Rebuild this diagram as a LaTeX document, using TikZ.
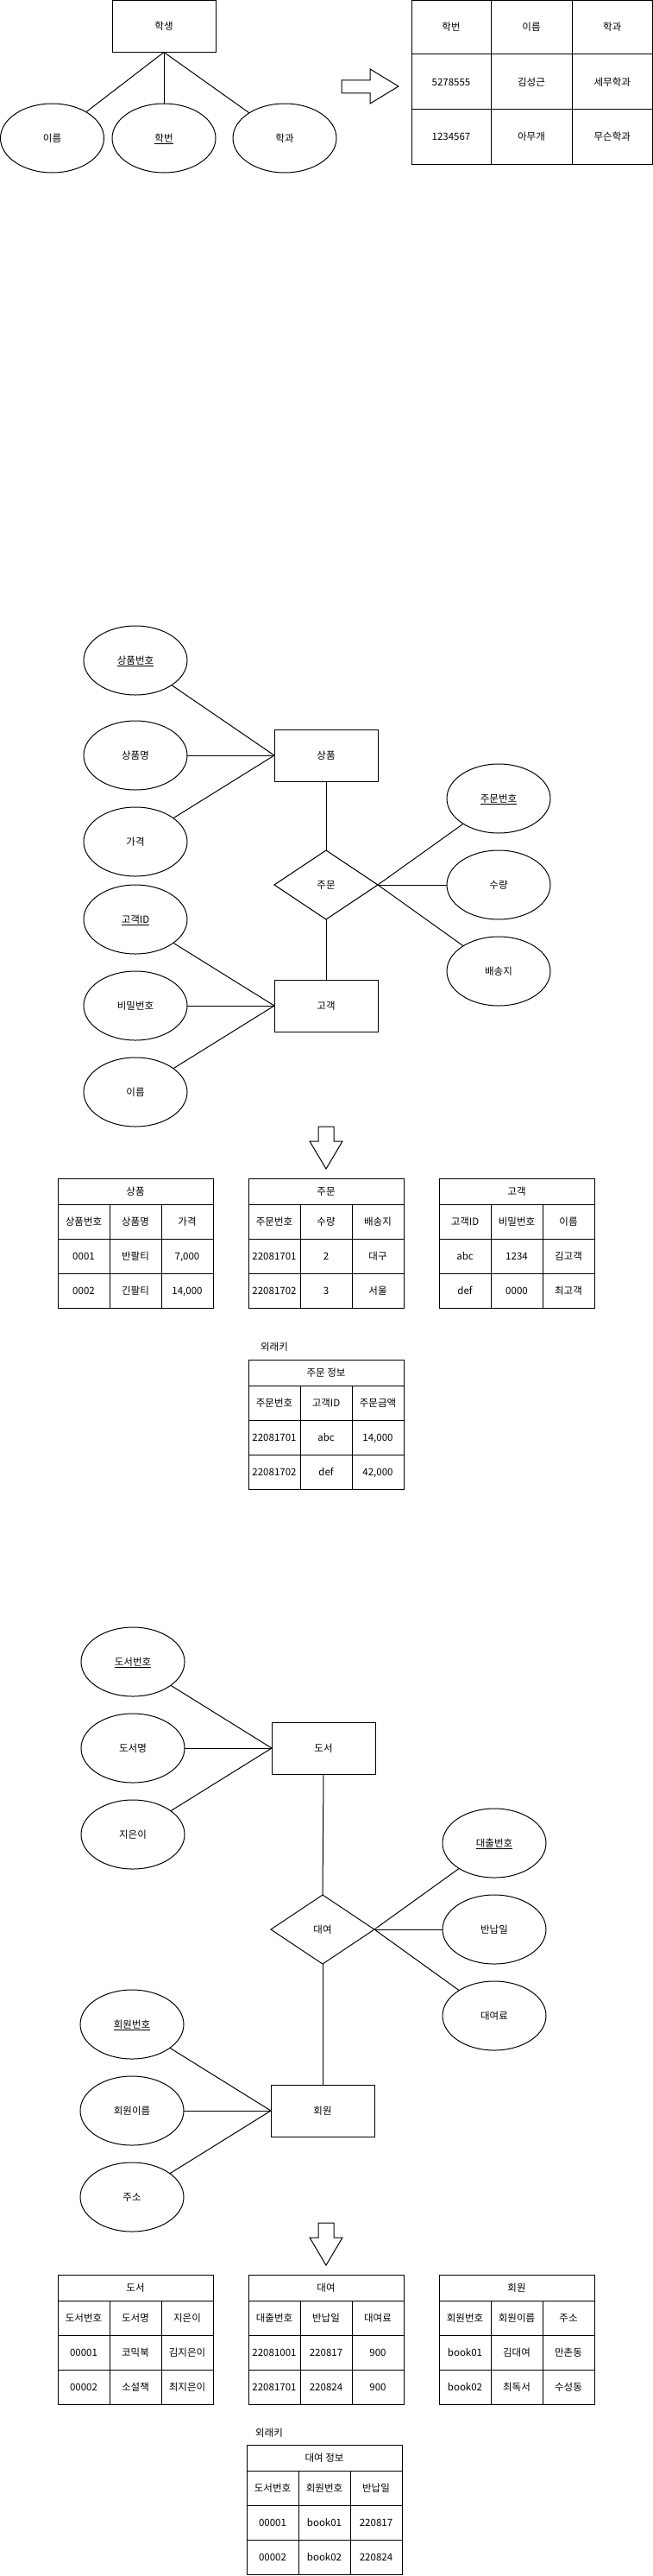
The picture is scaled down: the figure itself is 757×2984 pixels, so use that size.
\documentclass[tikz,border=0pt]{standalone}
\usepackage{fontspec}
\setmainfont{Noto Sans CJK KR}
\usetikzlibrary{shapes.geometric}
\newcommand{\ttitle}[4]{\node[ttl] (#1t) at (#2+90,#3+15) {#4};}
\newcommand{\trow}[6]{%
  \node[cell] (#1a) at (#2+30,#3+20) {#4};
  \node[cell] (#1b) at (#2+90,#3+20) {#5};
  \node[cell] (#1c) at (#2+150,#3+20) {#6};}
\begin{document}
\begin{tikzpicture}[x=1pt,y=-1pt,line width=1pt,
  every node/.style={font=\fontsize{11.5}{14}\selectfont, inner sep=0pt, outer sep=0pt, text height=10pt, text depth=1.5pt},
  ent/.style={draw, rectangle, minimum width=120pt, minimum height=60pt},
  attr/.style={draw, ellipse, minimum width=120pt, minimum height=80pt},
  rel/.style={draw, diamond, shape aspect=1.5, minimum width=120pt, minimum height=80pt},
  cell/.style={draw, rectangle, minimum width=60pt, minimum height=40pt},
  ttl/.style={draw, rectangle, minimum width=180pt, minimum height=30pt},
  bigcell/.style={draw, rectangle, minimum width=#1},
  blockarrow/.style={draw, line join=miter}]
\useasboundingbox (0,0) rectangle (757,2984);

% ---------------- Section 1 ----------------
\node[ent] (hs) at (190,30.5) {학생};
\node[attr] (h1) at (60.5,160) {이름};
\node[attr] (h2) at (190,160) {\underline{학번}};
\node[attr] (h3) at (330,160) {학과};
\draw (hs.south) -- (h1);
\draw (hs.south) -- (h2);
\draw (hs.south) -- (h3);

\draw[blockarrow] (396,93) -- (429,93) -- (429,80) -- (462,100) -- (429,120) -- (429,108) -- (396,108) -- cycle;

\node[bigcell=92pt, minimum height=62.5pt] (s11) at (523,31.75) {학번};
\node[bigcell=94pt, minimum height=62.5pt] (s12) at (616,31.75) {이름};
\node[bigcell=93.5pt, minimum height=62.5pt] (s13) at (709.75,31.75) {학과};
\node[bigcell=92pt, minimum height=64pt] (s21) at (523,95) {5278555};
\node[bigcell=94pt, minimum height=64pt] (s22) at (616,95) {김성근};
\node[bigcell=93.5pt, minimum height=64pt] (s23) at (709.75,95) {세무학과};
\node[bigcell=92pt, minimum height=63pt] (s31) at (523,158.5) {1234567};
\node[bigcell=94pt, minimum height=63pt] (s32) at (616,158.5) {아무개};
\node[bigcell=93.5pt, minimum height=63pt] (s33) at (709.75,158.5) {무슨학과};

% ---------------- Section 2 ----------------
\node[attr] (p1) at (157,765) {\underline{상품번호}};
\node[attr] (p2) at (157,875) {상품명};
\node[attr] (p3) at (157,975) {가격};
\node[ent] (sp) at (378,875) {상품};
\node[rel] (jm) at (378,1025) {주문};
\node[attr] (c1) at (157,1065) {\underline{고객ID}};
\node[attr] (c2) at (157,1165) {비밀번호};
\node[attr] (c3) at (157,1265) {이름};
\node[ent] (gg) at (378,1165) {고객};
\node[attr] (o1) at (578,925) {\underline{주문번호}};
\node[attr] (o2) at (578,1025) {수량};
\node[attr] (o3) at (578,1125) {배송지};

\draw (p1) -- (sp.west);
\draw (p2) -- (sp.west);
\draw (p3) -- (sp.west);
\draw (sp.south) -- (jm.north);
\draw (jm.south) -- (gg.north);
\draw (c1) -- (gg.west);
\draw (c2) -- (gg.west);
\draw (c3) -- (gg.west);
\draw (jm.east) -- (o1);
\draw (jm.east) -- (o2);
\draw (jm.east) -- (o3);

\draw[blockarrow] (369,1305) -- (387,1305) -- (387,1322) -- (397,1322) -- (378,1354) -- (359,1322) -- (369,1322) -- cycle;

\ttitle{ta}{67}{1365}{상품}
\trow{ta1}{67}{1395}{상품번호}{상품명}{가격}
\trow{ta2}{67}{1435}{0001}{반팔티}{7,000}
\trow{ta3}{67}{1475}{0002}{긴팔티}{14,000}

\ttitle{tb}{288}{1365}{주문}
\trow{tb1}{288}{1395}{주문번호}{수량}{배송지}
\trow{tb2}{288}{1435}{22081701}{2}{대구}
\trow{tb3}{288}{1475}{22081702}{3}{서울}

\ttitle{tc}{509}{1365}{고객}
\trow{tc1}{509}{1395}{고객ID}{비밀번호}{이름}
\trow{tc2}{509}{1435}{abc}{1234}{김고객}
\trow{tc3}{509}{1475}{def}{0000}{최고객}

\node (fk1) at (318,1560) {외래키};
\ttitle{td}{288}{1575}{주문 정보}
\trow{td1}{288}{1605}{주문번호}{고객ID}{주문금액}
\trow{td2}{288}{1645}{22081701}{abc}{14,000}
\trow{td3}{288}{1685}{22081702}{def}{42,000}

% ---------------- Section 3 ----------------
\node[attr] (b1) at (154,1925) {\underline{도서번호}};
\node[attr] (b2) at (154,2025) {도서명};
\node[attr] (b3) at (154,2125) {지은이};
\node[ent] (ds) at (375,2025) {도서};
\node[rel] (dy) at (374,2235) {대여};
\node[attr] (r1) at (573,2135) {\underline{대출번호}};
\node[attr] (r2) at (573,2235) {반납일};
\node[attr] (r3) at (573,2335) {대여료};
\node[attr] (m1) at (153,2345) {\underline{회원번호}};
\node[attr] (m2) at (153,2445) {회원이름};
\node[attr] (m3) at (153,2545) {주소};
\node[ent] (hw) at (374,2445) {회원};

\draw (b1) -- (ds.west);
\draw (b2) -- (ds.west);
\draw (b3) -- (ds.west);
\draw (ds.south) -- (dy.north);
\draw (dy.south) -- (hw.north);
\draw (dy.east) -- (r1);
\draw (dy.east) -- (r2);
\draw (dy.east) -- (r3);
\draw (m1) -- (hw.west);
\draw (m2) -- (hw.west);
\draw (m3) -- (hw.west);

\draw[blockarrow] (369,2575) -- (387,2575) -- (387,2592) -- (397,2592) -- (378,2624) -- (359,2592) -- (369,2592) -- cycle;

\ttitle{te}{67}{2635}{도서}
\trow{te1}{67}{2665}{도서번호}{도서명}{지은이}
\trow{te2}{67}{2705}{00001}{코믹북}{김지은이}
\trow{te3}{67}{2745}{00002}{소설책}{최지은이}

\ttitle{tf}{288}{2635}{대여}
\trow{tf1}{288}{2665}{대출번호}{반납일}{대여료}
\trow{tf2}{288}{2705}{22081001}{220817}{900}
\trow{tf3}{288}{2745}{22081701}{220824}{900}

\ttitle{tg}{509}{2635}{회원}
\trow{tg1}{509}{2665}{회원번호}{회원이름}{주소}
\trow{tg2}{509}{2705}{book01}{김대여}{만촌동}
\trow{tg3}{509}{2745}{book02}{최독서}{수성동}

\node (fk2) at (312,2818) {외래키};
\ttitle{th}{286}{2832}{대여 정보}
\trow{th1}{286}{2862}{도서번호}{회원번호}{반납일}
\trow{th2}{286}{2902}{00001}{book01}{220817}
\trow{th3}{286}{2942}{00002}{book02}{220824}
\end{tikzpicture}
\end{document}
